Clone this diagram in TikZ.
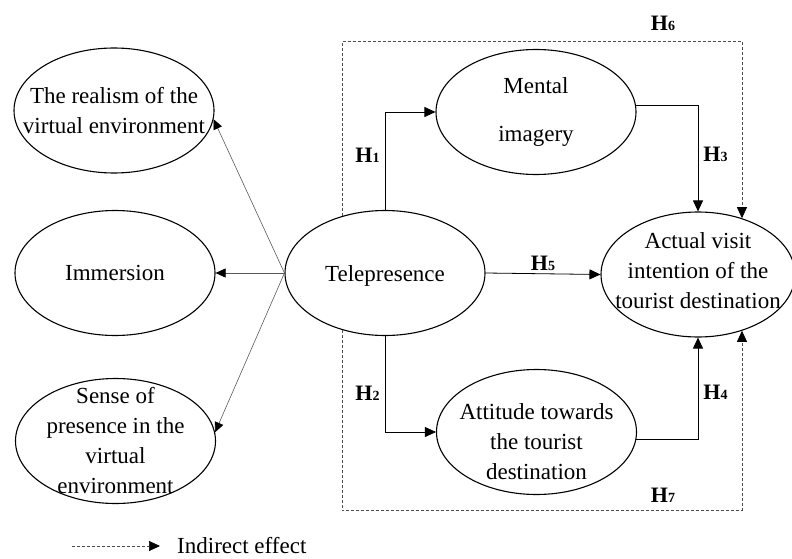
\documentclass[tikz,border=0pt]{standalone}
\usepackage{fontspec}
\setmainfont{Liberation Serif}
\usepackage{tikz}
\usetikzlibrary{positioning, arrows.meta, shapes.geometric}

\newcommand{\hlab}[1]{H{\fontsize{14}{14}\selectfont #1}}

\tikzset{
	construct/.style={ellipse, draw, line width=1.1pt, minimum width=200pt, minimum height=125pt, inner sep=0pt},
	ctext/.style={align=center, font=\fontsize{23}{30}\selectfont, inner sep=0pt},
	hyp/.style={font=\fontsize{22}{24}\selectfont\bfseries, inner sep=2pt},
	link/.style={line width=0.8pt, -{Triangle[length=11pt,width=10pt]}},
	reflect/.style={line width=0.6pt, draw=black!65, -{Triangle[length=10pt,width=9pt,color=black]}},
	indirect/.style={line width=0.7pt, draw=black!70, dash pattern=on 3pt off 2pt, -{Triangle[length=11pt,width=10pt,color=black]}}
}

\begin{document}
\begin{tikzpicture}[x=1pt, y=-1pt]
			\useasboundingbox (0,0) rectangle (792,559);
			% constructs
			\node[construct] (real) at (114,110.5) {};
			\node[ctext] (realt) at (real) {The realism of the\\virtual environment};
			\node[construct] (imm) at (115,273) {};
			\node[ctext] (immt) at (imm) {Immersion};
			\node[construct] (sense) at (115.5,441) {};
			\node[ctext] (senset) at (sense) {Sense of\\presence in the\\virtual\\environment};
			\node[construct] (tele) at (385,273) {};
			\node[ctext] (telet) at ([yshift=-3pt]tele) {Telepresence};
			\node[construct] (ment) at (536,112) {};
			\node[ctext] (mentt) at (ment) {Mental\\[18pt]imagery};
			\node[construct] (att) at (536.5,432) {};
			\node[ctext] (attt) at ([yshift=-10pt]att) {Attitude towards\\the tourist\\destination};
			\node[construct, minimum width=194pt] (act) at (698,274.5) {};
			\node[ctext] (actt) at ([yshift=4pt]act) {Actual visit\\intention of the\\tourist destination};
			% reflective links
			\draw[reflect] (tele.west) -- (real.-5);
			\draw[reflect] (tele.west) -- (imm.east);
			\draw[reflect] (tele.west) -- (sense.5);
			% hypotheses
			\draw[link] (tele.north) |- node[hyp, pos=0.28, left=3pt] (h1) {\hlab{1}} (ment.west);
			\draw[link] (tele.south) |- node[hyp, pos=0.3, left=3pt] (h2) {\hlab{2}} (att.west);
			\draw[link] (ment.4) -| node[hyp, pos=0.73, right=3pt] (h3) {\hlab{3}} (act.north);
			\draw[link] (att.-4) -| node[hyp, pos=0.73, right=3pt] (h4) {\hlab{4}} (act.south);
			\draw[link] (tele.east) -- node[hyp, above=1pt] (h5) {\hlab{5}} (act.west);
			% indirect effects
			\coordinate (top) at (541.7,41.7);
			\coordinate (bot) at (541.7,510.7);
			\draw[indirect] (tele.127.6) |- (top) -| (act.52);
			\draw[indirect] (tele.-127.6) |- (bot) -| (act.-52);
			\node[hyp] (h6) at (663,23) {\hlab{6}};
			\node[hyp] (h7) at (663,495) {\hlab{7}};
			% legend
			\coordinate (lega) at (72,546);
			\coordinate (legb) at (160,546);
			\draw[indirect] (lega) -- (legb);
			\node[ctext, right=17pt of legb] (legt) {Indirect effect};
		\end{tikzpicture}
\end{document}
